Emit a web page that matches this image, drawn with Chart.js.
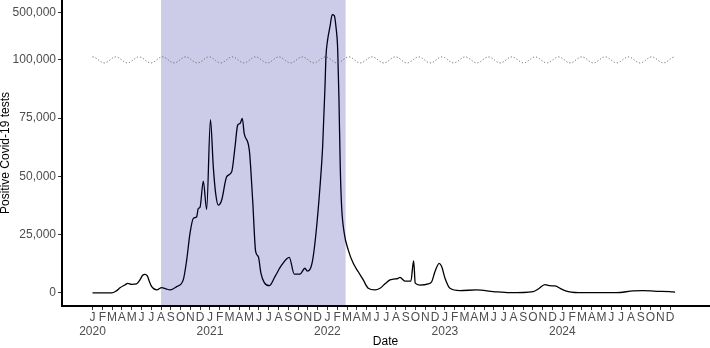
<!DOCTYPE html>
<html><head><meta charset="utf-8">
<script src="https://cdn.jsdelivr.net/npm/chart.js@4"></script>
<style>html,body{margin:0;padding:0;background:#fff;} canvas{display:block;}</style>
</head><body>
<canvas id="c" width="710" height="348"></canvas>
<script>
// ---- data ----
const MONTH_LETTERS = ['J','F','M','A','M','J','J','A','S','O','N','D'];
const YEARS = [2020, 2021, 2022, 2023, 2024];
const Y_TICKS = [0, 25000, 50000, 75000, 100000, 500000];
// months since 1 Jan 2020
const DATE_MONTHS = [0,1.96,2.47,2.81,3.3,3.6,4.0,4.51,4.85,5.1,5.36,5.6,5.85,6.05,6.56,7.07,7.5,7.92,8.6,9.27,9.62,9.96,10.3,10.64,10.81,10.98,11.32,11.66,12.05,12.34,12.58,12.85,13.2,13.71,14.22,14.56,14.83,15.07,15.3,15.5,16.02,16.36,16.67,16.94,17.21,17.55,18.06,18.64,19.33,20.1,20.61,21.2,21.7,21.94,22.2,22.49,22.83,23.24,23.51,23.75,23.85,24.02,24.26,24.49,24.7,24.87,25.05,25.18,25.31,25.45,25.72,26.13,26.64,27.15,27.66,28.17,28.86,29.37,29.88,30.39,30.73,31.24,31.41,31.92,32.53,32.71,32.81,32.97,33.45,34.3,34.65,34.98,35.42,35.67,36.01,36.52,37.54,39.24,40.94,42.65,45.03,45.54,46.22,46.73,47.24,47.93,48.6,50.13,53.54,55.24,56.26,57.63,58.99,59.5];
const POSITIVE_TESTS = [0,0,1000,2200,3400,4100,3700,3900,5600,7500,8000,7300,4500,2700,1300,2300,1800,1300,2700,5600,14100,25600,32000,32700,36300,36700,48000,35800,74400,54100,42700,37700,39900,49900,52000,62700,72000,72700,74900,68400,61300,39900,17700,15600,8400,4400,3100,7000,12000,15300,8100,8100,10600,9400,10000,14100,25600,45600,62700,88400,128000,270000,383000,485000,477000,383000,185000,82700,54100,37000,25600,18400,12700,9100,5600,2000,1300,2000,3900,5600,5900,6300,6700,5100,5100,11300,13700,4200,3400,3900,4800,9100,12700,11300,6300,2000,1000,1300,600,100,600,1700,3600,3100,3000,1600,600,100,100,900,1000,700,600,300];
const BAND_START = 7;      // Aug 2020
const BAND_END = 25.86;    // end Feb 2022
const AXIS_BREAK = 100000;
const BREAK_RATIO = 0.0504;

function fwd(v){ return v <= AXIS_BREAK ? v : AXIS_BREAK + (v - AXIS_BREAK) * BREAK_RATIO; }
function inv(d){ return d <= AXIS_BREAK ? d : AXIS_BREAK + (d - AXIS_BREAK) / BREAK_RATIO; }

class BrokenLinearScale extends Chart.LinearScale {
  getPixelForValue(value){
    const a = fwd(this.min), b = fwd(this.max);
    return this.getPixelForDecimal((fwd(value) - a) / (b - a));
  }
  getValueForPixel(pixel){
    const a = fwd(this.min), b = fwd(this.max);
    return inv(a + this.getDecimalForPixel(pixel) * (b - a));
  }
}
BrokenLinearScale.id = 'brokenLinear';
BrokenLinearScale.defaults = Chart.LinearScale.defaults;
Chart.register(BrokenLinearScale);

const MONTH_TICKS = [];
for (let i = 0; i < YEARS.length * 12; i++) MONTH_TICKS.push(i);

const FONT = "'Liberation Sans', Arial, Helvetica, sans-serif";
Chart.defaults.font.family = FONT;

const overlayPlugin = {
  id: 'overlay',
  afterDatasetsDraw(chart){
    const {ctx, chartArea: a, scales: {x, y}} = chart;
    ctx.save();
    const x0 = x.getPixelForValue(BAND_START), x1 = x.getPixelForValue(BAND_END);
    ctx.fillStyle = 'rgba(0,0,139,0.2)';
    ctx.fillRect(x0, a.top, x1 - x0, a.bottom - a.top - 1);
    const yb = y.getPixelForValue(AXIS_BREAK);
    const w0 = x.getPixelForValue(DATE_MONTHS[0]);
    const w1 = x.getPixelForValue(DATE_MONTHS[DATE_MONTHS.length - 1]);
    ctx.beginPath();
    let first = true;
    for (let px = w0; px <= w1; px += 0.5) {
      const py = yb - 3 * Math.cos(2 * Math.PI * (px - w0) / 23.3);
      if (first) { ctx.moveTo(px, py); first = false; } else ctx.lineTo(px, py);
    }
    ctx.setLineDash([1.2, 2]);
    ctx.strokeStyle = '#666';
    ctx.lineWidth = 1;
    ctx.stroke();
    ctx.restore();
  }
};

new Chart(document.getElementById('c'), {
  type: 'line',
  data: {
    datasets: [{
      data: DATE_MONTHS.map((m, i) => ({x: m, y: POSITIVE_TESTS[i]})),
      borderColor: '#000',
      borderWidth: 1.3,
      pointRadius: 0,
      cubicInterpolationMode: 'monotone',
      fill: false
    }]
  },
  options: {
    responsive: false,
    animation: false,
    devicePixelRatio: 1,
    layout: {padding: {left: 0, right: 1, top: 0, bottom: 0}},
    plugins: {legend: {display: false}, tooltip: {enabled: false}},
    scales: {
      x: {
        type: 'linear',
        min: -3.116,
        max: 62.98,
        grid: {display: true, drawOnChartArea: false, drawTicks: true, tickLength: 4, color: '#333', lineWidth: 1},
        border: {display: true, color: '#000', width: 2},
        ticks: {
          autoSkip: false, maxRotation: 0, minRotation: 0, padding: 0,
          color: '#4d4d4d', font: {size: 12, family: FONT},
          callback: (v) => {
            const m = Math.round(v);
            const letter = MONTH_LETTERS[m % 12];
            return m % 12 === 0 ? [letter, String(YEARS[m / 12])] : letter;
          }
        },
        afterBuildTicks: s => { s.ticks = MONTH_TICKS.map(v => ({value: v})); },
        afterFit: s => { s.height = 42; s.paddingLeft = 0; s.paddingRight = 0; },
        title: {display: true, text: 'Date', color: '#000', font: {size: 12, family: FONT, lineHeight: 1}, padding: 0}
      },
      y: {
        type: 'brokenLinear',
        min: -5600,
        max: 610000,
        bounds: 'data',
        grid: {display: true, drawOnChartArea: false, drawTicks: true, tickLength: 4, color: '#333', lineWidth: 1},
        border: {display: true, color: '#000', width: 2},
        ticks: {
          autoSkip: false, padding: 2,
          color: '#4d4d4d', font: {size: 12, family: FONT},
          callback: v => Number(v).toLocaleString('en-US')
        },
        afterBuildTicks: s => { s.ticks = Y_TICKS.map(v => ({value: v})); },
        afterFit: s => { s.width = 62; s.paddingTop = 0; s.paddingBottom = 0; },
        title: {display: true, text: 'Positive Covid-19 tests', color: '#000', font: {size: 12, family: FONT, lineHeight: 1}, padding: 0}
      }
    }
  },
  plugins: [overlayPlugin]
});
</script>
</body></html>
